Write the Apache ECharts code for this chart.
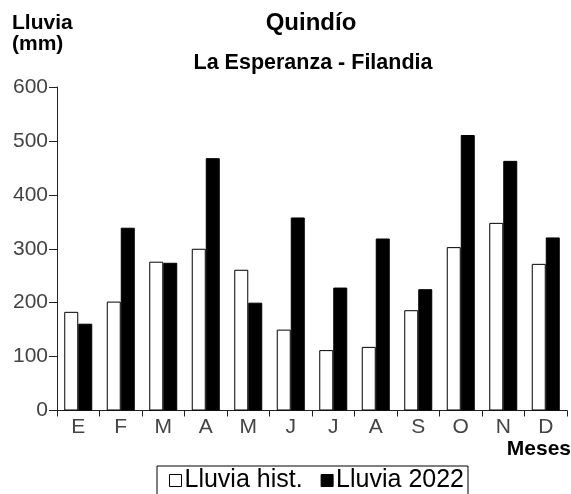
<!DOCTYPE html>
<html>
<head>
<meta charset="utf-8">
<script src="https://cdn.jsdelivr.net/npm/echarts@6/dist/echarts.min.js"></script>
<style>
html,body{margin:0;padding:0;background:#fff;}
#c{width:571px;height:494px;}
</style>
</head>
<body>
<div id="c"></div>
<script>
const months = ['E','F','M','A','M','J','J','A','S','O','N','D'];
const lluviaHist = [183, 202, 276, 300, 261, 150, 112, 118, 186, 303, 348, 272];
const lluvia2022 = [161, 339, 274, 468, 200, 358, 228, 319, 225, 511, 463, 321];
const yTicks = [0, 100, 200, 300, 400, 500, 600];

const FONT = '"Liberation Sans", Arial, sans-serif';
const chart = echarts.init(document.getElementById('c'), null, {renderer: 'canvas'});
chart.setOption({
  animation: false,
  backgroundColor: '#fff',
  title: [
    {text: 'Quindío', left: 311, textAlign: 'center', top: 11, padding: 0,
     textStyle: {fontFamily: FONT, fontSize: 24, fontWeight: 'bold', color: '#000'}},
    {text: 'La Esperanza - Filandia', left: 313, textAlign: 'center', top: 52, padding: 0,
     textStyle: {fontFamily: FONT, fontSize: 21.5, fontWeight: 'bold', color: '#000'}},
    {text: 'Lluvia\n(mm)', left: 12, top: 13, padding: 0,
     textStyle: {fontFamily: FONT, fontSize: 21, fontWeight: 'bold', color: '#000', lineHeight: 21}}
  ],
  legend: {
    left: 157, top: 466,
    padding: [2, 4, 10, 12],
    borderColor: '#000', borderWidth: 1,
    itemWidth: 12, itemHeight: 12, itemGap: 18,
    icon: 'rect',
    textStyle: {fontFamily: FONT, fontSize: 25, color: '#000', padding: [0, 0, 0, -2]},
    data: [
      {name: 'Lluvia hist.', itemStyle: {color: '#fff', borderColor: '#000', borderWidth: 1}},
      {name: 'Lluvia 2022', itemStyle: {color: '#000', borderColor: '#000', borderWidth: 1}}
    ]
  },
  grid: {left: 57, right: 4, top: 87, bottom: 83.5, containLabel: false, outerBoundsMode: 'none'},
  xAxis: {
    type: 'category', data: months,
    name: 'Meses', nameLocation: 'end', nameGap: 4,
    nameTextStyle: {fontFamily: FONT, fontSize: 21, fontWeight: 'bold', color: '#000',
      align: 'right', verticalAlign: 'top', padding: [28, 0, 0, 0]},
    axisLine: {lineStyle: {color: '#222', width: 1}},
    axisTick: {show: true, length: 6, lineStyle: {color: '#222'}},
    axisLabel: {fontFamily: FONT, fontSize: 21, color: '#444', margin: 6}
  },
  yAxis: {
    type: 'value', min: 0, max: 600, interval: 100,
    axisLine: {show: true, lineStyle: {color: '#222', width: 1}},
    axisTick: {show: true, length: 8, lineStyle: {color: '#222'}},
    splitLine: {show: false},
    axisLabel: {fontFamily: FONT, fontSize: 21, color: '#444', margin: 9,
      formatter: v => yTicks.includes(v) ? String(v) : ''}
  },
  series: [
    {name: 'Lluvia hist.', type: 'bar', data: lluviaHist, barWidth: 14, barGap: '0%',
     itemStyle: {color: '#fff', borderColor: '#000', borderWidth: 1}},
    {name: 'Lluvia 2022', type: 'bar', data: lluvia2022, barWidth: 14,
     itemStyle: {color: '#000', borderColor: '#000', borderWidth: 1}}
  ]
});
</script>
</body>
</html>
